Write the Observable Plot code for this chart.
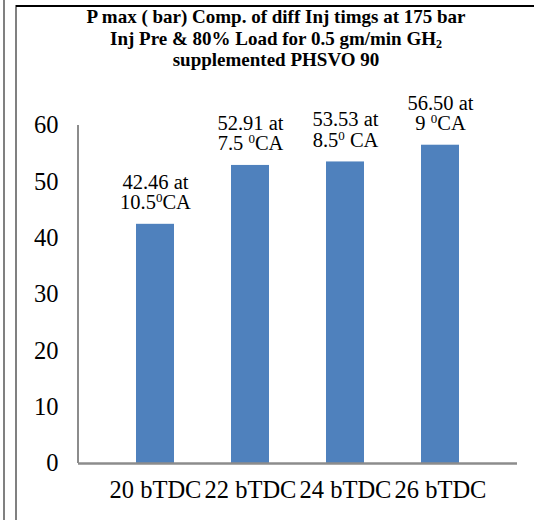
<!DOCTYPE html>
<html>
<head>
<meta charset="utf-8">
<script src="https://cdn.jsdelivr.net/npm/d3@7"></script>
<script src="https://cdn.jsdelivr.net/npm/@observablehq/plot@0.6"></script>
<style>
  body { margin: 0; background: #fff; }
  #wrap { position: relative; width: 538px; height: 520px; overflow: hidden; font-family: "Liberation Serif", "Times New Roman", serif; }
  .vline1 { position: absolute; left: 3px; top: 0; width: 2px; height: 520px; background: #808080; }
  .vline2 { position: absolute; left: 15px; top: 5px; width: 2px; height: 515px; background: #808080; }
  .hline { position: absolute; left: 16px; top: 5px; width: 518px; height: 2px; background: #000; }
  #title { position: absolute; left: 17px; width: 518px; top: 6px; text-align: center; font-weight: bold; font-size: 19px; line-height: 21.5px; color: #000; }
  #title sub { font-size: 12px; line-height: 0; vertical-align: -3px; }
  #chart { position: absolute; left: 0; top: 75px; }
  #chart svg, #chart svg text { font-family: "Liberation Serif", "Times New Roman", serif !important; }
</style>
</head>
<body>
<div id="wrap">
  <div class="vline1"></div>
  <div class="vline2"></div>
  <div class="hline"></div>
  <div id="title">P max ( bar) Comp. of diff Inj timgs at 175 bar<br>Inj Pre &amp; 80% Load for 0.5 gm/min GH<sub>2</sub><br>supplemented PHSVO 90</div>
  <div id="chart"></div>
</div>
<script>
const categories = ["20 bTDC", "22 bTDC", "24 bTDC", "26 bTDC"];
const pmax = [42.46, 52.91, 53.53, 56.50];
const labels = ["42.46 at\n10.5^0CA", "52.91 at\n7.5 ^0CA", "53.53 at\n8.5^0 CA", "56.50 at\n9 ^0CA"];
const yTicks = [0, 10, 20, 30, 40, 50, 60];

const data = categories.map((c, i) => ({cat: c, value: pmax[i], label: labels[i]}));

const plot = Plot.plot({
  width: 538,
  height: 445,
  marginLeft: 78,
  marginRight: 21,
  marginTop: 50,
  marginBottom: 57,
  style: "font-family: 'Liberation Serif', 'Times New Roman', serif; background: transparent; overflow: visible;",
  x: { domain: categories, padding: 0.6, label: null },
  y: { domain: [0, 60], label: null },
  marks: [
    Plot.barY(data, { x: "cat", y: "value", fill: "#4f81bd" }),
    Plot.axisY({ ticks: yTicks, tickSize: 0, tickPadding: 20, fontSize: 24.5, label: null, color: "#000" }),
    Plot.axisX({ tickSize: 0, tickPadding: 17, fontSize: 24.5, label: null, color: "#000" }),
    Plot.ruleY([0], { stroke: "#8c8c8c", strokeWidth: 2.5 }),
    Plot.text(data, { x: "cat", y: "value", text: "label", lineAnchor: "bottom", dy: -15, fontSize: 20.5, lineHeight: 1.0, fill: "#000" })
  ]
});
document.getElementById("chart").appendChild(plot);

const svg = d3.select(plot);
// y-axis line along left edge of plot area
svg.append("line")
  .attr("x1", 78).attr("x2", 78)
  .attr("y1", 50).attr("y2", 388)
  .attr("stroke", "#8c8c8c").attr("stroke-width", 2);

// render "^0" as a real superscript zero
svg.selectAll("text tspan, text").each(function() {
  const el = d3.select(this);
  if (this.children && this.children.length) return;
  const t = this.textContent;
  if (!t.includes("^0")) return;
  const parts = t.split("^0");
  el.text(null);
  parts.forEach((p, i) => {
    if (i > 0) {
      el.append("tspan").attr("baseline-shift", "super").attr("font-size", 13).text("0");
    }
    el.append("tspan").text(p);
  });
});
</script>
</body>
</html>
